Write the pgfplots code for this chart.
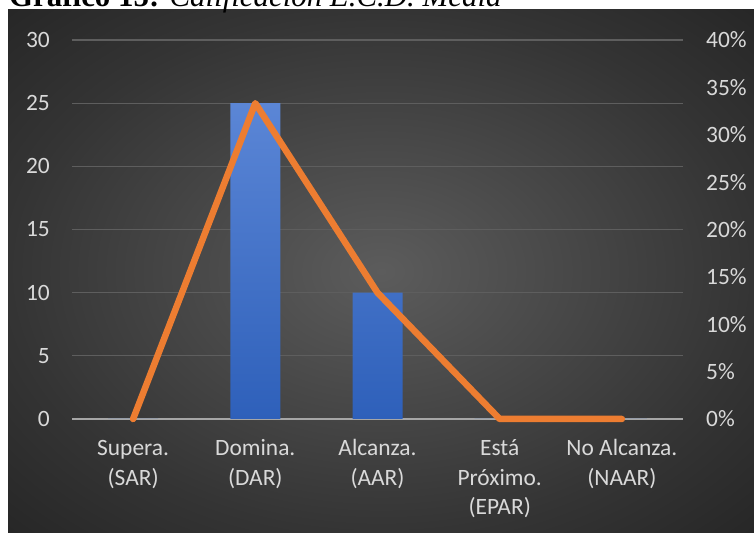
\documentclass[border=0pt]{standalone}
\usepackage{pgfplots}
\pgfplotsset{compat=1.18}
\usepackage{fontspec}
\setmainfont{Carlito}
\newfontfamily\titlefont{Liberation Serif}
\definecolor{tick}{HTML}{D9D9D9}
\definecolor{gridc}{HTML}{5E5E5E}
\definecolor{zeroc}{HTML}{A6A6A6}
\definecolor{barTop}{HTML}{5B86D6}
\definecolor{barBot}{HTML}{2E60BA}
\definecolor{lineOr}{HTML}{ED7D31}
\pgfdeclareradialshading{bgshade}{\pgfpoint{0bp}{0bp}}{color(0bp)=(rgb,255:red,92;green,92;blue,92);color(25bp)=(rgb,255:red,52;green,52;blue,52);color(36bp)=(rgb,255:red,38;green,38;blue,38);color(50bp)=(rgb,255:red,38;green,38;blue,38)}
\pgfplotstableread{
x bars pct
0 0 0
1 25 0.3333
2 10 0.1333
3 0 0
4 0 0
}\datatab
\begin{document}
\begin{tikzpicture}[x=1bp,y=1bp]
\useasboundingbox (0,0) rectangle (754,533);
\fill[white] (0,0) rectangle (754,533);
\shade[shading=bgshade] (8,0) rectangle (754,523);
\node[anchor=base west, inner sep=0] at (9,526) {\titlefont\fontsize{31}{33}\selectfont\textbf{Gráfico 15:} \textit{Calificación E.C.D. Media}};
\begin{axis}[
  at={(72bp,114bp)}, anchor=south west,
  scale only axis, width=611bp, height=379bp,
  xmin=-0.5, xmax=4.5, ymin=0, ymax=30,
  xtick={0,1,2,3,4},
  xticklabels={{\strut Supera.\\(SAR)},{\strut Domina.\\(DAR)},{\strut Alcanza.\\(AAR)},{\strut Está\\Próximo.\\(EPAR)},{\strut No Alcanza.\\(NAAR)}},
  ytick={0,5,...,30},
  axis x line*=bottom, axis y line*=left,
  x axis line style={draw=zeroc, line width=2bp, -},
  y axis line style={draw=none},
  major tick length=0pt,
  ymajorgrids, grid style={draw=gridc, line width=1.3bp},
  /pgf/number format/assume math mode=true,
  ticklabel style={font=\fontsize{23.5}{29.5}\selectfont, text=tick},
  yticklabel style={anchor=east, inner sep=0pt, xshift=-22bp},
  xticklabel style={anchor=north, inner sep=0pt, yshift=-16bp, align=center},
  clip=false,
]
\addplot[ybar, bar width=50bp, draw=none, top color=barTop, bottom color=barBot] table[x=x, y=bars] {\datatab};
\end{axis}
\begin{axis}[
  at={(72bp,114bp)}, anchor=south west,
  scale only axis, width=611bp, height=379bp,
  xmin=-0.5, xmax=4.5, ymin=0, ymax=0.4,
  axis x line=none, axis y line*=right,
  y axis line style={draw=none},
  major tick length=0pt,
  ytick={0,0.05,0.1,0.15,0.2,0.25,0.3,0.35,0.4},
  yticklabels={0\%,5\%,10\%,15\%,20\%,25\%,30\%,35\%,40\%},
  ticklabel style={font=\fontsize{23.5}{29.5}\selectfont, text=tick},
  yticklabel style={anchor=west, inner sep=0pt, xshift=23bp},
  clip=false,
]
\addplot[draw=lineOr, line width=6.5bp, line join=round, line cap=round, mark=none] table[x=x, y=pct] {\datatab};
\end{axis}
\end{tikzpicture}
\end{document}
